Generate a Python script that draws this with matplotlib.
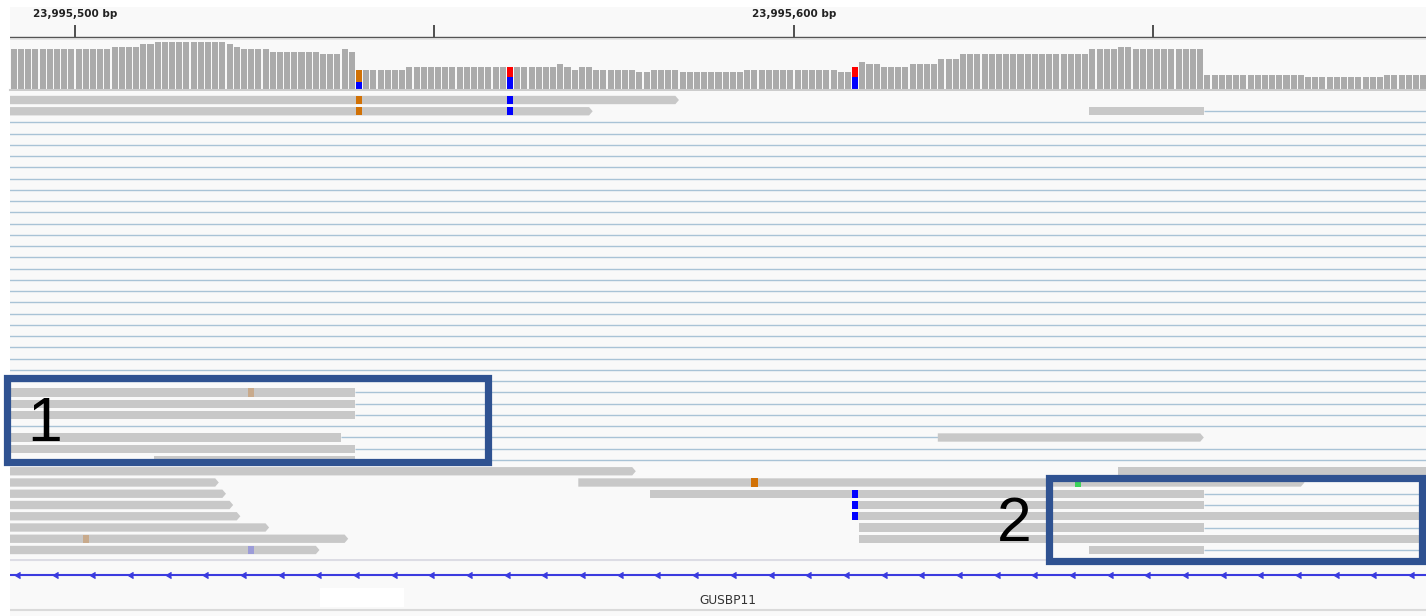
import numpy as np
import matplotlib
matplotlib.use("Agg")
import matplotlib.pyplot as plt
from matplotlib.patches import Rectangle, Polygon

# ---- data ----
view_left, view_right = 23995490.96, 23995687.9
ruler_ticks = [23995500, 23995550, 23995600, 23995650]
ruler_labels = {23995500: "23,995,500 bp", 23995600: "23,995,600 bp"}

# coverage, run-length encoded from the first visible base
cov_start = 23995491
cov_levels = [16, 17, 18, 19, 18, 17, 16, 15, 14, 16, 15, 8, 8, 9, 9, 9, 10, 9, 8, 9,
              8, 7, 8, 7, 8, 7, 9, 11, 10, 9, 10, 12, 14, 16, 17, 16, 6, 5, 6]
cov_runs = [14, 4, 2, 10, 1, 1, 4, 7, 3, 1, 1, 1, 6, 14, 1, 6, 1, 1, 1, 2,
            6, 2, 4, 9, 13, 2, 1, 1, 2, 4, 4, 3, 18, 4, 2, 10, 14, 11, 6]
# allele split at mismatch columns
mm_cov_pos = [23995539, 23995560, 23995608]
mm_cov_C = [3, 5, 5]
mm_cov_G = [5, 0, 0]
mm_cov_T = [0, 4, 4]

L, R = 23995480, 23995700   # off-screen ends
read_row = [0, 1, 1, 26, 27, 28, 30, 30, 31, 32, 33, 33, 34, 34, 35, 35, 36, 36, 37, 37, 38, 38, 39, 39, 40, 40]
read_start = [L, L, 23995641, L, L, L, L, 23995620, L, 23995511, L, 23995645, L, 23995570,
              L, 23995580, L, 23995608, L, 23995608, L, 23995609, L, 23995609, L, 23995641]
read_end = [23995584, 23995572, 23995657, 23995539, 23995539, 23995539, 23995537, 23995657,
            23995539, 23995539, 23995578, R, 23995520, 23995671, 23995521, 23995657,
            23995522, 23995657, 23995523, R, 23995527, 23995657, 23995538, R, 23995534, 23995657]
read_arrow = [1, 1, 0, 0, 0, 0, 0, 1, 0, 0, 1, 0, 1, 1, 1, 0, 1, 0, 1, 0, 1, 0, 1, 0, 1, 0]

line_row = list(range(2, 26)) + [29, 32, 1, 26, 27, 28, 31, 30, 35, 36, 38, 40]
line_start = [L] * 26 + [23995657, 23995539, 23995539, 23995539, 23995539, 23995537,
                         23995657, 23995657, 23995657, 23995657]
line_end = [R] * 26 + [R, R, R, R, R, 23995620, R, R, R, R]

mm_row = [0, 0, 1, 1, 26, 34, 34, 35, 36, 37, 39, 40]
mm_pos = [23995539, 23995560, 23995539, 23995560, 23995524, 23995594, 23995639,
          23995608, 23995608, 23995608, 23995501, 23995524]
mm_col = ["#d17105", "#0000ff", "#d17105", "#0000ff", "#c8aa8c", "#d17105", "#3cd25a",
          "#0000ff", "#0000ff", "#0000ff", "#c8aa8c", "#9c9cd8"]

gene_name = "GUSBP11"
gene_label_x = 23995590.8
gene_arrow_first, gene_arrow_step = 23995492.35, 5.24
blank_box = (23995534.1, 11.7)

# highlight boxes (bp, rows) and their numbers
boxes = [(23995490.54, 23995557.44, 24.71, 32.18), (23995635.47, 23995687.35, 33.56, 40.98)]
box_labels = [("1", 23995495.8, 30.31), ("2", 23995630.7, 39.2)]

BG = "#f9f9f9"
W, H = 1426, 616


def make_ax(fig, top, bottom, zorder=1):
    ax = fig.add_axes([10 / W, 1 - bottom / H, 1 - 10 / W, (bottom - top) / H], zorder=zorder)
    ax.set_facecolor(BG)
    ax.set_xticks([])
    ax.set_yticks([])
    for s in ax.spines.values():
        s.set_visible(False)
    ax.set_xlim(view_left, view_right)
    return ax


fig = plt.figure(figsize=(W / 100, H / 100), dpi=100)

# ruler
ax_r = make_ax(fig, 7, 40)
ax_r.set_ylim(40, 7)
ax_r.vlines(ruler_ticks, 25, 36.5, color="#333333", lw=1.2)
for t, lab in ruler_labels.items():
    ax_r.text(t, 14, lab, ha="center", va="center", fontsize=7.5, fontweight="bold", color="#222222")
ax_r.axhline(37.2, color="#555555", lw=1)
ax_r.axhline(39.5, color="#999999", lw=1)

# coverage
ax_c = make_ax(fig, 40, 90)
ax_c.set_ylim(0, 19.6)
cov = np.repeat(cov_levels, cov_runs)
pos = cov_start + np.arange(len(cov))
ax_c.bar(pos + 0.5, cov, width=0.84, color="#ababab", linewidth=0)
bottom = np.zeros(len(mm_cov_pos))
for counts, col in [(mm_cov_C, "#0000ff"), (mm_cov_G, "#d17105"), (mm_cov_T, "#ff0000")]:
    ax_c.bar(np.array(mm_cov_pos) + 0.5, counts, bottom=bottom, width=0.84, color=col, linewidth=0)
    bottom += np.array(counts)
ax_c.spines["bottom"].set_visible(True)
ax_c.spines["bottom"].set_color("#cccccc")
ax_c.spines["bottom"].set_linewidth(1.5)

# reads
ax_a = make_ax(fig, 91, 559, zorder=5)
ax_a.set_ylim(40.8, -0.8)
h = 0.37
for r, s, e in zip(line_row, line_start, line_end):
    ax_a.plot([s, e], [r, r], color="#a9c3d6", lw=1.0, solid_capstyle="butt", zorder=1)
for r, s, e, a in zip(read_row, read_start, read_end, read_arrow):
    if a:
        pts = [(s, r - h), (e - 0.5, r - h), (e, r), (e - 0.5, r + h), (s, r + h)]
    else:
        pts = [(s, r - h), (e, r - h), (e, r + h), (s, r + h)]
    ax_a.add_patch(Polygon(pts, closed=True, fc="#c8c8c8", ec="none", zorder=2))
for r, p, c in zip(mm_row, mm_pos, mm_col):
    ax_a.add_patch(Rectangle((p + 0.05, r - h), 0.9, 2 * h, fc=c, ec="none", zorder=3))

for x0, x1, y0, y1 in boxes:
    ax_a.add_patch(Rectangle((x0, y0), x1 - x0, y1 - y0, fill=False, ec="#2f5291",
                             lw=5.2, clip_on=False, zorder=10, joinstyle="miter"))
for txt, x, y in box_labels:
    ax_a.text(x, y, txt, ha="center", va="baseline", fontsize=45,
              family="Liberation Sans", color="black", zorder=11, clip_on=False)

# gene track
ax_g = make_ax(fig, 559, 616)
ax_g.set_ylim(57, 0)
ax_g.axhline(0.8, color="#dcdce4", lw=1.5)
ax_g.axhline(50.5, color="#dadada", lw=1.5)
ax_g.axhline(16, color="#3b3bdf", lw=1.5)
arrows = np.arange(gene_arrow_first, view_right, gene_arrow_step)
ax_g.plot(arrows, np.full(len(arrows), 16), ls="none", marker=8, ms=5, color="#3b3bdf")
ax_g.add_patch(Rectangle((blank_box[0], 29), blank_box[1], 19, fc="white", ec="none"))
ax_g.text(gene_label_x, 42, gene_name, ha="center", va="center", fontsize=8.7, color="#333333")

fig.savefig("out.png", dpi=100, facecolor="white")
